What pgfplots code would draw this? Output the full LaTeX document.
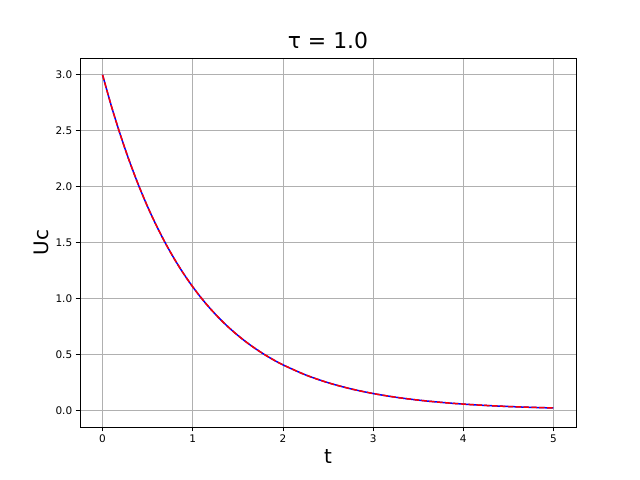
\documentclass[border=0pt]{standalone}
\usepackage{pgfplots}
\pgfplotsset{compat=1.18}
\usepackage{fontspec}
\setmainfont{DejaVu Sans}
\pgfplotstableread{
t u
0 3.000
0.1 2.7145
0.2 2.4562
0.3 2.2225
0.4 2.0110
0.5 1.8196
0.6 1.6464
0.7 1.4898
0.8 1.3480
0.9 1.2197
1.0 1.1036
1.1 0.9986
1.2 0.9036
1.3 0.8176
1.4 0.7398
1.5 0.6694
1.6 0.6057
1.7 0.5481
1.8 0.4959
1.9 0.4487
2.0 0.4060
2.25 0.3162
2.5 0.2463
2.75 0.1918
3 0.1494
3.25 0.1163
3.5 0.0906
3.75 0.0706
4 0.0549
4.25 0.0428
4.5 0.0333
4.75 0.0259
5 0.0202
}\data
\begin{document}
\begin{tikzpicture}
\begin{axis}[
  scale only axis, width=496bp, height=369bp,
  xmin=-0.25, xmax=5.25, ymin=-0.15, ymax=3.15,
  xtick={0,1,2,3,4,5}, ytick={0,0.5,1,1.5,2,2.5,3},
  yticklabel style={/pgf/number format/.cd,fixed,fixed zerofill,precision=1},
  /pgf/number format/assume math mode=true,
  ticklabel style={font=\fontsize{10.5}{12}\selectfont},
  grid=major, grid style={color=black!31, line width=0.8pt},
  axis line style={line width=0.8pt},
  tick style={black, line width=0.8pt},
  tick align=outside, xtick pos=bottom, ytick pos=left,
  xlabel={t}, ylabel={Uc},
  label style={font=\fontsize{20}{24}\selectfont},
  title={τ = 1.0}, title style={font=\fontsize{22}{26}\selectfont},
]
\addplot[blue, line width=1.5pt, smooth] table[x=t,y=u] {\data};
\addplot[red, line width=1.5pt, smooth, dash pattern=on 5.5pt off 2.4pt] table[x=t,y=u] {\data};
\end{axis}
\path (current axis.south west) ++(-80bp,-53bp) rectangle ++(640bp,480bp);
\end{tikzpicture}
\end{document}
